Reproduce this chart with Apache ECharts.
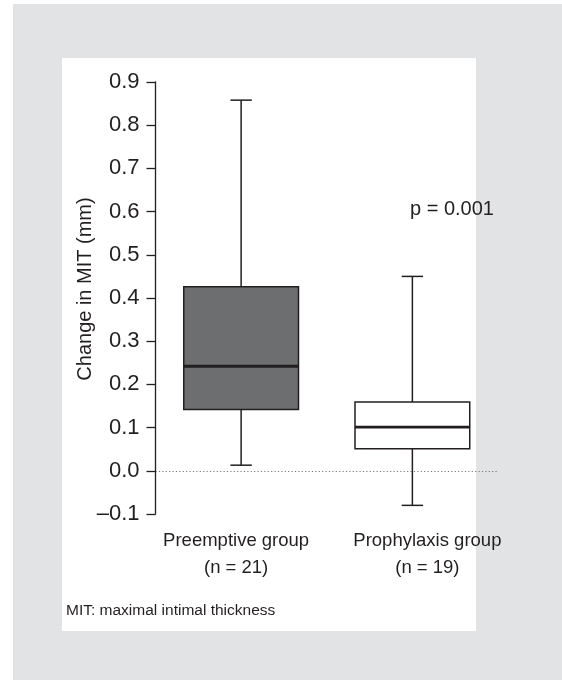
<!DOCTYPE html>
<html><head><meta charset="utf-8">
<script src="https://cdn.jsdelivr.net/npm/echarts@6/dist/echarts.min.js"></script>
<style>html,body{margin:0;padding:0;background:#fff}#c{width:562px;height:680px}</style>
</head><body><div id="c"></div>
<script>
const categories = ['Preemptive group\n(n = 21)', 'Prophylaxis group\n(n = 19)'];
// [min, Q1, median, Q3, max]
const preemptive = [0.013, 0.142, 0.242, 0.426, 0.858];
const prophylaxis = [-0.08, 0.051, 0.101, 0.159, 0.45];
const boxFills = ['#6d6e70', '#ffffff'];
const yTicks = [-0.1, 0.0, 0.1, 0.2, 0.3, 0.4, 0.5, 0.6, 0.7, 0.8, 0.9];
const pText = 'p = 0.001';
const footnote = 'MIT: maximal intimal thickness';
const yName = 'Change in MIT (mm)';

const ink = '#231f20';
const font = '"Liberation Sans", Arial, Helvetica, sans-serif';
const chart = echarts.init(document.getElementById('c'), null, {renderer: 'canvas'});
const seriesData = [preemptive, prophylaxis].map((d, i) => [i].concat(d));

chart.setOption({
  animation: false,
  backgroundColor: '#ffffff',
  graphic: [
    {type: 'rect', z: -10, shape: {x: 13, y: 4, width: 549, height: 676}, style: {fill: '#e2e3e5'}},
    {type: 'rect', z: -9, shape: {x: 62, y: 58, width: 414, height: 573}, style: {fill: '#ffffff'}},
    {type: 'text', x: 410, y: 209, style: {text: pText, font: '20px ' + font, fill: ink, textVerticalAlign: 'middle'}},
    {type: 'text', x: 66, y: 610.5, style: {text: footnote, font: '15.5px ' + font, fill: ink, textVerticalAlign: 'middle'}},
    {type: 'text', x: 85, y: 289, rotation: Math.PI / 2,
      style: {text: yName, font: '20px ' + font, fill: ink, textAlign: 'center', textVerticalAlign: 'middle'}}
  ],
  grid: {left: 155.5, right: 64, top: 82, bottom: 166},
  xAxis: {
    type: 'category', data: categories,
    axisLine: {show: false}, axisTick: {show: false},
    axisLabel: {
      interval: 0,
      margin: 14,
      formatter: (v, i) => v.split('\n').map(s => '{c' + i + '|' + s + '}').join('\n'),
      rich: {
        c0: {color: ink, fontSize: 18.5, fontFamily: font, lineHeight: 26.5, padding: [0, 10, 0, 0]},
        c1: {color: ink, fontSize: 18.5, fontFamily: font, lineHeight: 26.5, padding: [0, 0, 0, 30]}
      }
    }
  },
  yAxis: {
    type: 'value', min: -0.1, max: 0.9, interval: 0.1,
    axisLine: {show: true, lineStyle: {color: ink, width: 1.3}},
    axisTick: {show: true, length: 9, lineStyle: {color: ink, width: 1.3}},
    axisLabel: {color: ink, fontSize: 22, fontFamily: font, margin: 16,
      formatter: v => (v < -1e-9 ? '\u2013' : '') + Math.abs(v).toFixed(1)},
    splitLine: {show: false}
  },
  series: [{
    type: 'custom',
    data: seriesData,
    encode: {x: 0, y: [1, 2, 3, 4, 5]},
    renderItem: function (params, api) {
      const idx = api.value(0);
      const pMin = api.coord([idx, api.value(1)]);
      const pQ1 = api.coord([idx, api.value(2)]);
      const pMed = api.coord([idx, api.value(3)]);
      const pQ3 = api.coord([idx, api.value(4)]);
      const pMax = api.coord([idx, api.value(5)]);
      const band = api.size([1, 0])[0];
      const bw = band * 0.67, cw = band * 0.125;
      const cx = pMed[0];
      const ls = {stroke: ink, lineWidth: 1.5};
      return {type: 'group', children: [
        {type: 'line', shape: {x1: cx, y1: pMax[1], x2: cx, y2: pQ3[1]}, style: ls},
        {type: 'line', shape: {x1: cx, y1: pQ1[1], x2: cx, y2: pMin[1]}, style: ls},
        {type: 'line', shape: {x1: cx - cw / 2, y1: pMax[1], x2: cx + cw / 2, y2: pMax[1]}, style: ls},
        {type: 'line', shape: {x1: cx - cw / 2, y1: pMin[1], x2: cx + cw / 2, y2: pMin[1]}, style: ls},
        {type: 'rect', shape: {x: cx - bw / 2, y: pQ3[1], width: bw, height: pQ1[1] - pQ3[1]},
          style: {fill: boxFills[idx], stroke: ink, lineWidth: 1.5}},
        {type: 'line', shape: {x1: cx - bw / 2, y1: pMed[1], x2: cx + bw / 2, y2: pMed[1]},
          style: {stroke: ink, lineWidth: 2.8}}
      ]};
    },
    markLine: {
      silent: true, symbol: 'none', z: 0,
      label: {show: false},
      lineStyle: {color: '#777', type: [1.2, 2.2], width: 1},
      data: [{yAxis: 0}]
    },
    z: 2
  }]
});
</script></body></html>
